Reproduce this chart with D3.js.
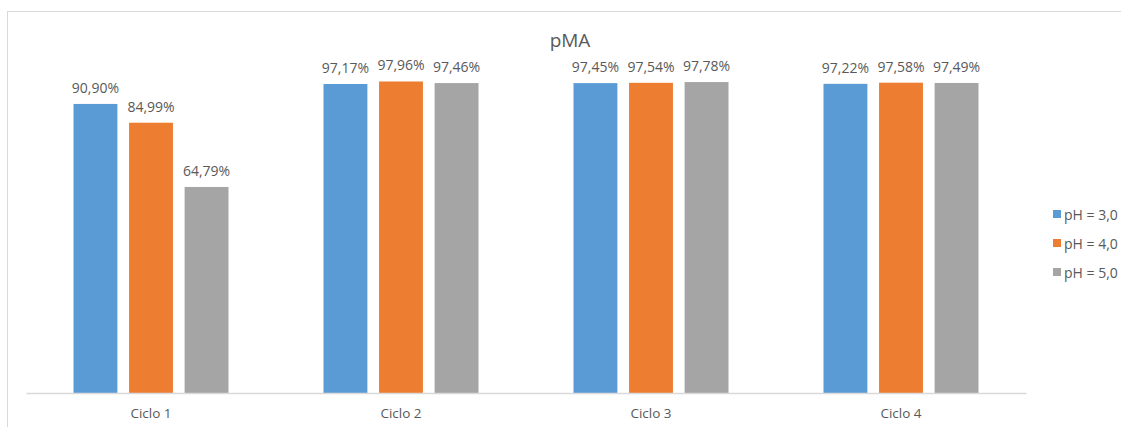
<!DOCTYPE html>
<html>
<head>
<meta charset="utf-8">
<script src="https://cdn.jsdelivr.net/npm/d3@7"></script>
<style>
  html, body { margin: 0; padding: 0; background: #fff; }
  svg { display: block; font-family: "Open Sans", "Noto Sans", sans-serif; }
</style>
</head>
<body>
<svg id="chart" width="1121" height="427"></svg>
<script>
const categories = ["Ciclo 1", "Ciclo 2", "Ciclo 3", "Ciclo 4"];
const seriesNames = ["pH = 3,0", "pH = 4,0", "pH = 5,0"];
const seriesColors = ["#5b9bd5", "#ed7d31", "#a5a5a5"];
const ph3 = [90.90, 97.17, 97.45, 97.22];
const ph4 = [84.99, 97.96, 97.54, 97.58];
const ph5 = [64.79, 97.46, 97.78, 97.49];
const seriesValues = [ph3, ph4, ph5];

const svg = d3.select("#chart");
const textColor = "#595959";

// chart frame
svg.append("rect")
  .attr("x", 7.5).attr("y", 11.5)
  .attr("width", 1130).attr("height", 430)
  .attr("fill", "none").attr("stroke", "#d9d9d9").attr("stroke-width", 1);

const plot = { left: 26, right: 1026, top: 75, bottom: 393 };

const x0 = d3.scaleBand().domain(categories).range([plot.left, plot.right]).paddingInner(0.38).paddingOuter(0.19);
const x1 = d3.scaleBand().domain(d3.range(seriesNames.length)).range([0, x0.bandwidth()]).paddingInner(0.21);
const y = d3.scaleLinear().domain([0, 100]).range([plot.bottom, plot.top]);

const fmt = v => v.toFixed(2).replace(".", ",") + "%";

// bars and value labels
const groups = svg.append("g").selectAll("g")
  .data(categories)
  .join("g")
  .attr("transform", d => `translate(${x0(d)},0)`);

groups.selectAll("rect")
  .data((c, ci) => seriesValues.map((s, si) => ({ si, v: s[ci] })))
  .join("rect")
  .attr("x", d => x1(d.si))
  .attr("y", d => y(d.v))
  .attr("width", x1.bandwidth())
  .attr("height", d => y(0) - y(d.v))
  .attr("fill", d => seriesColors[d.si]);

groups.selectAll("text")
  .data((c, ci) => seriesValues.map((s, si) => ({ si, v: s[ci] })))
  .join("text")
  .attr("x", d => x1(d.si) + x1.bandwidth() / 2)
  .attr("y", d => y(d.v) - 11)
  .attr("text-anchor", "middle")
  .attr("font-size", 14)
  .attr("fill", textColor)
  .text(d => fmt(d.v));

// category axis
const xAxis = svg.append("g")
  .attr("transform", `translate(0,${plot.bottom})`)
  .call(d3.axisBottom(x0).tickSize(0).tickPadding(15));
xAxis.select(".domain").attr("stroke", "#d9d9d9").attr("stroke-width", 1.5);
xAxis.selectAll("text")
  .attr("font-size", 13.5)
  .attr("fill", textColor)
  .attr("font-family", "\"Open Sans\", \"Noto Sans\", sans-serif");

// title
svg.append("text")
  .attr("x", 570).attr("y", 47)
  .attr("text-anchor", "middle")
  .attr("font-size", 19)
  .attr("fill", textColor)
  .text("pMA");

// legend
const legend = svg.append("g").attr("transform", "translate(1053,215)");
const items = legend.selectAll("g")
  .data(seriesNames)
  .join("g")
  .attr("transform", (d, i) => `translate(0,${i * 29})`);
items.append("rect")
  .attr("x", 0).attr("y", -5)
  .attr("width", 8).attr("height", 8)
  .attr("fill", (d, i) => seriesColors[i]);
items.append("text")
  .attr("x", 11).attr("y", 4.5)
  .attr("font-size", 14)
  .attr("fill", textColor)
  .text(d => d);
</script>
</body>
</html>
